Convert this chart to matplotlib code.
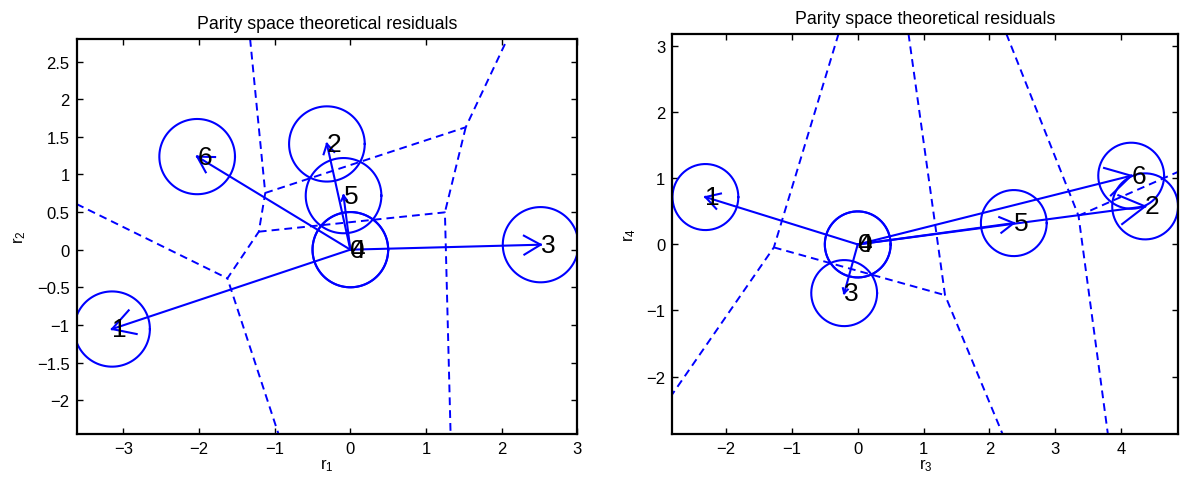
import numpy as np
import matplotlib
matplotlib.use('Agg')
import matplotlib.pyplot as plt

plt.rcParams['font.family'] = ['Liberation Sans', 'DejaVu Sans']
plt.rcParams['mathtext.default'] = 'regular'

# fault signatures (residual directions), labels 0..6
labels = ['0', '1', '2', '3', '4', '5', '6']
r1 = [0.0, -3.15, -0.31, 2.515, 0.0, -0.09, -2.025]
r2 = [0.0, -1.055, 1.405, 0.066, 0.0, 0.718, 1.237]
r3 = [0.0, -2.314, 4.366, -0.206, 0.0, 2.371, 4.154]
r4 = [0.0, 0.717, 0.576, -0.737, 0.0, 0.323, 1.04]

radius = 0.5

# decision boundaries (dashed polylines)
left_bounds = [
    [(-1.325, 2.80), (-1.125, 0.754), (-1.21, 0.239), (-1.625, -0.381), (-0.95, -2.45)],
    [(-3.62, 0.607), (-1.625, -0.381)],
    [(-1.21, 0.239), (1.25, 0.496), (1.325, -2.45)],
    [(-1.125, 0.754), (1.525, 1.627), (2.075, 2.80)],
    [(1.525, 1.627), (1.25, 0.496)],
]
right_bounds = [
    [(-0.291, 3.19), (-1.274, -0.045), (-2.817, -2.268)],
    [(-1.274, -0.045), (1.326, -0.768)],
    [(0.771, 3.19), (1.326, -0.768), (2.2, -2.87)],
    [(2.257, 3.19), (3.354, 0.434), (3.8, -2.87)],
    [(3.354, 0.434), (4.87, 1.10)],
]

left_lim = ((-3.62, 3.0), (-2.45, 2.80))
right_lim = ((-2.817, 4.87), (-2.87, 3.19))

blue = (0, 0, 1)


def fmt(v):
    return ('%g' % v).replace('-', '\u2212')


def draw_panel(ax, xs, ys, bounds, lims, xlab, ylab, xticks, yticks):
    th = np.linspace(0, 2 * np.pi, 200)
    for b in bounds:
        b = np.array(b)
        ax.plot(b[:, 0], b[:, 1], '--', color=blue, lw=1.4, dashes=(4, 2.6))
    for x, y, lab in zip(xs, ys, labels):
        ax.plot(x + radius * np.cos(th), y + radius * np.sin(th), color=blue, lw=1.5)
        L = np.hypot(x, y)
        if L > 0:
            ax.plot([0, x], [0, y], color=blue, lw=1.5)
            ang = np.arctan2(-y, -x)
            h = 0.1 * L
            for s in (-1, 1):
                a = ang + s * np.pi / 6
                ax.plot([x, x + h * np.cos(a)], [y, y + h * np.sin(a)], color=blue, lw=1.5)
        ax.text(x, y, lab, fontsize=19, ha='left', va='center', color='black')
    ax.set_xlim(lims[0])
    ax.set_ylim(lims[1])
    ax.set_xticks(xticks)
    ax.set_yticks(yticks)
    ax.set_xticklabels([fmt(v) for v in xticks])
    ax.set_yticklabels([fmt(v) for v in yticks])
    ax.tick_params(direction='in', top=True, right=True, length=4, width=1,
                   labelsize=12, pad=5)
    for sp in ax.spines.values():
        sp.set_linewidth(1.6)
    ax.set_title('Parity space theoretical residuals', fontsize=12.8, pad=8)
    ax.set_xlabel(xlab, fontsize=12, labelpad=0)
    ax.set_ylabel(ylab, fontsize=12, labelpad=6)


fig = plt.figure(figsize=(11.8, 4.81), dpi=100)
ax1 = fig.add_axes([76.5 / 1180, 1 - 435 / 481, (577.3 - 76.5) / 1180, 395 / 481])
ax2 = fig.add_axes([672.3 / 1180, 1 - 435 / 481, (1178.3 - 672.3) / 1180, 400.3 / 481])

draw_panel(ax1, r1, r2, left_bounds, left_lim, 'r$_1$', 'r$_2$',
           [-3, -2, -1, 0, 1, 2, 3], [-2, -1.5, -1, -0.5, 0, 0.5, 1, 1.5, 2, 2.5])
draw_panel(ax2, r3, r4, right_bounds, right_lim, 'r$_3$', 'r$_4$',
           [-2, -1, 0, 1, 2, 3, 4], [-2, -1, 0, 1, 2, 3])

fig.savefig('out.png', dpi=100)
